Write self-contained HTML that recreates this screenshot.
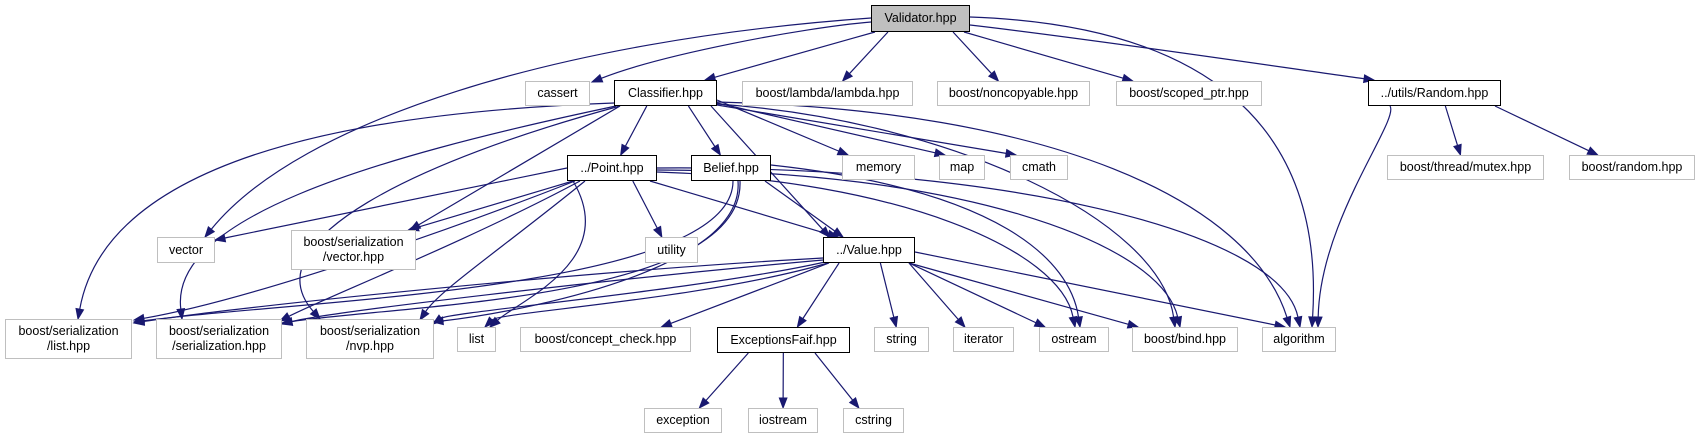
<!DOCTYPE html>
<html><head><meta charset="utf-8">
<style>
html,body{margin:0;padding:0;background:#fff;}
body{width:1705px;height:440px;overflow:hidden;position:relative;font-family:"Liberation Sans",Arial,sans-serif;}
.n{position:absolute;box-sizing:border-box;border:1px solid #bfbfbf;background:#fff;font-size:12.5px;color:#000;display:flex;align-items:center;justify-content:center;text-align:center;line-height:15px;white-space:nowrap;z-index:2}
.b{border:1.5px solid #000;}
.g{background:#bfbfbf;border:1.5px solid #000;}
svg{position:absolute;left:0;top:0;z-index:1}
</style></head><body>
<svg id="s" width="1705" height="440" viewBox="0 0 1705 440"></svg>
<div class="n g" style="left:871px;top:5px;width:99px;height:27px">Validator.hpp</div>
<div class="n" style="left:525px;top:81px;width:65px;height:25px">cassert</div>
<div class="n b" style="left:614px;top:80px;width:103px;height:26px">Classifier.hpp</div>
<div class="n" style="left:742px;top:81px;width:171px;height:25px">boost/lambda/lambda.hpp</div>
<div class="n" style="left:937px;top:81px;width:153px;height:25px">boost/noncopyable.hpp</div>
<div class="n" style="left:1116px;top:81px;width:146px;height:25px">boost/scoped_ptr.hpp</div>
<div class="n b" style="left:1368px;top:80px;width:133px;height:26px">../utils/Random.hpp</div>
<div class="n b" style="left:567px;top:155px;width:90px;height:26px">../Point.hpp</div>
<div class="n b" style="left:691px;top:155px;width:80px;height:26px">Belief.hpp</div>
<div class="n" style="left:842px;top:155px;width:73px;height:25px">memory</div>
<div class="n" style="left:939px;top:155px;width:46px;height:25px">map</div>
<div class="n" style="left:1010px;top:155px;width:58px;height:25px">cmath</div>
<div class="n" style="left:1387px;top:155px;width:157px;height:25px">boost/thread/mutex.hpp</div>
<div class="n" style="left:1569px;top:155px;width:126px;height:25px">boost/random.hpp</div>
<div class="n" style="left:157px;top:237px;width:58px;height:26px">vector</div>
<div class="n" style="left:291px;top:230px;width:125px;height:40px">boost/serialization<br>/vector.hpp</div>
<div class="n" style="left:645px;top:237px;width:53px;height:26px">utility</div>
<div class="n b" style="left:823px;top:237px;width:92px;height:26px">../Value.hpp</div>
<div class="n" style="left:5px;top:319px;width:127px;height:40px">boost/serialization<br>/list.hpp</div>
<div class="n" style="left:156px;top:319px;width:126px;height:40px">boost/serialization<br>/serialization.hpp</div>
<div class="n" style="left:306px;top:319px;width:128px;height:40px">boost/serialization<br>/nvp.hpp</div>
<div class="n" style="left:457px;top:327px;width:39px;height:25px">list</div>
<div class="n" style="left:520px;top:327px;width:171px;height:25px">boost/concept_check.hpp</div>
<div class="n b" style="left:717px;top:327px;width:133px;height:26px">ExceptionsFaif.hpp</div>
<div class="n" style="left:874px;top:327px;width:55px;height:25px">string</div>
<div class="n" style="left:953px;top:327px;width:61px;height:25px">iterator</div>
<div class="n" style="left:1039px;top:327px;width:70px;height:25px">ostream</div>
<div class="n" style="left:1132px;top:327px;width:106px;height:25px">boost/bind.hpp</div>
<div class="n" style="left:1262px;top:327px;width:74px;height:25px">algorithm</div>
<div class="n" style="left:644px;top:408px;width:78px;height:25px">exception</div>
<div class="n" style="left:748px;top:408px;width:70px;height:25px">iostream</div>
<div class="n" style="left:843px;top:408px;width:61px;height:25px">cstring</div>
<script>
var N={V:[871,5,970,32],cas:[525,81,590,106],C:[614,80,717,106],lam:[742,81,913,106],nc:[937,81,1090,106],sp:[1116,81,1262,106],R:[1368,80,1501,106],P:[567,155,657,181],B:[691,155,771,181],mem:[842,155,915,180],map:[939,155,985,180],cm:[1010,155,1068,180],mu:[1387,155,1544,180],br:[1569,155,1695,180],vec:[157,237,215,263],sv:[291,230,416,270],ut:[645,237,698,263],Va:[823,237,915,263],lh:[5,319,132,359],sh:[156,319,282,359],nv:[306,319,434,359],li:[457,327,496,352],cc:[520,327,691,352],E:[717,327,850,353],st:[874,327,929,352],it:[953,327,1014,352],os:[1039,327,1109,352],bi:[1132,327,1238,352],al:[1262,327,1336,352],ex:[644,408,722,433],io:[748,408,818,433],cs:[843,408,904,433]};
// [src,dst,c1,c2,start,end]
var E=[
['V','cas',[800,28],[660,55],[871,22],[592,82]],['V','C',null,null,[875,32],[705,80]],['V','lam'],['V','nc'],['V','sp'],['V','R',[1100,40],[1300,70],[970,25]],
['V','vec',[560,40],[300,120],[871,18],[205,237]],['V','al',[1200,25],[1325,120],[970,17],[1312,327]],
['C','P'],['C','B'],['C','Va'],['C','mem',null,null,[717,100]],['C','map',null,null,[717,103]],['C','cm',null,null,[717,105]],
['C','bi',[950,120],[1160,220],[717,104],[1175,327]],['C','al',[1050,110],[1250,200],[717,102],[1290,327]],
['C','lh',[420,110],[110,140],[614,103],[78,319]],['C','sh',[360,160],[170,220],[616,106],[182,319]],['C','nv',[420,160],[250,240],[620,106],[320,319]],['C','sv'],
['P','vec',null,null,[567,168],[215,240]],['P','sv'],['P','ut'],['P','Va',null,null,[650,181],[838,237]],
['P','lh',[450,230],[250,300],[575,181],[134,320]],['P','sh',[470,240],[320,300],[580,181],[280,321]],['P','nv',[500,250],[440,290],[585,181],[420,320]],['P','li',[620,260],[520,300]],
['P','os',[900,180],[1060,250],[657,172],[1075,327]],['P','bi',[950,170],[1160,240],[657,170],[1180,327]],['P','al',[1000,165],[1280,230],[657,168],[1300,327]],
['B','Va'],['B','lh',[733,290],[300,300],[733,181],[134,322]],['B','sh',[745,300],[400,305],[740,181],[282,323]],['B','nv',[745,270],[520,312],[738,181],[433,322]],['B','os',[1000,190],[1070,260],[771,165],[1080,327]],
['Va','lh',[600,270],[250,305],[823,258],[134,323]],['Va','sh',[600,280],[330,312],[823,260],[282,324]],['Va','nv',[700,290],[450,312],[825,262],[433,324]],['Va','li',[700,300],[500,312],[828,263],[485,327]],['Va','cc'],['Va','E'],['Va','st'],['Va','it'],['Va','os'],['Va','bi'],['Va','al',null,null,[915,252],[1285,327]],
['R','al',[1400,120],[1320,220],[1390,106],[1318,327]],['R','mu'],['R','br'],
['E','ex'],['E','io'],['E','cs']];
var s='',col='#191970';
function cl(v,a,b){return Math.max(a,Math.min(b,v));}
E.forEach(function(e){
 var a=N[e[0]],b=N[e[1]];
 var acx=(a[0]+a[2])/2,bcx=(b[0]+b[2])/2;
 var sx,sy,tx,ty;
 if(e[4]){sx=e[4][0];sy=e[4][1];}else{sx=cl(acx+(bcx-acx)*0.35,a[0]+6,a[2]-6);sy=a[3];}
 if(e[5]){tx=e[5][0];ty=e[5][1];}else{tx=cl(bcx+(sx-bcx)*0.25,b[0]+6,b[2]-6);ty=b[1];}
 var c1,c2;
 if(e[2]){c1=e[2];c2=e[3];}else{var dy=ty-sy;c1=[sx+(tx-sx)*0.33,sy+dy*0.33];c2=[sx+(tx-sx)*0.67,sy+dy*0.67];}
 var dx=tx-c2[0],dyy=ty-c2[1],L=Math.sqrt(dx*dx+dyy*dyy)||1;dx/=L;dyy/=L;
 var al=10,aw=3.8;var bx=tx-dx*al,by=ty-dyy*al;
 s+='<path d="M'+sx+','+sy+' C'+c1[0]+','+c1[1]+' '+c2[0]+','+c2[1]+' '+bx+','+by+'" fill="none" stroke="'+col+'" stroke-width="1.2"/>';
 s+='<polygon points="'+tx+','+ty+' '+(bx-dyy*aw)+','+(by+dx*aw)+' '+(bx+dyy*aw)+','+(by-dx*aw)+'" fill="'+col+'" stroke="'+col+'"/>';
});
document.getElementById('s').innerHTML=s;
</script>
</body></html>
